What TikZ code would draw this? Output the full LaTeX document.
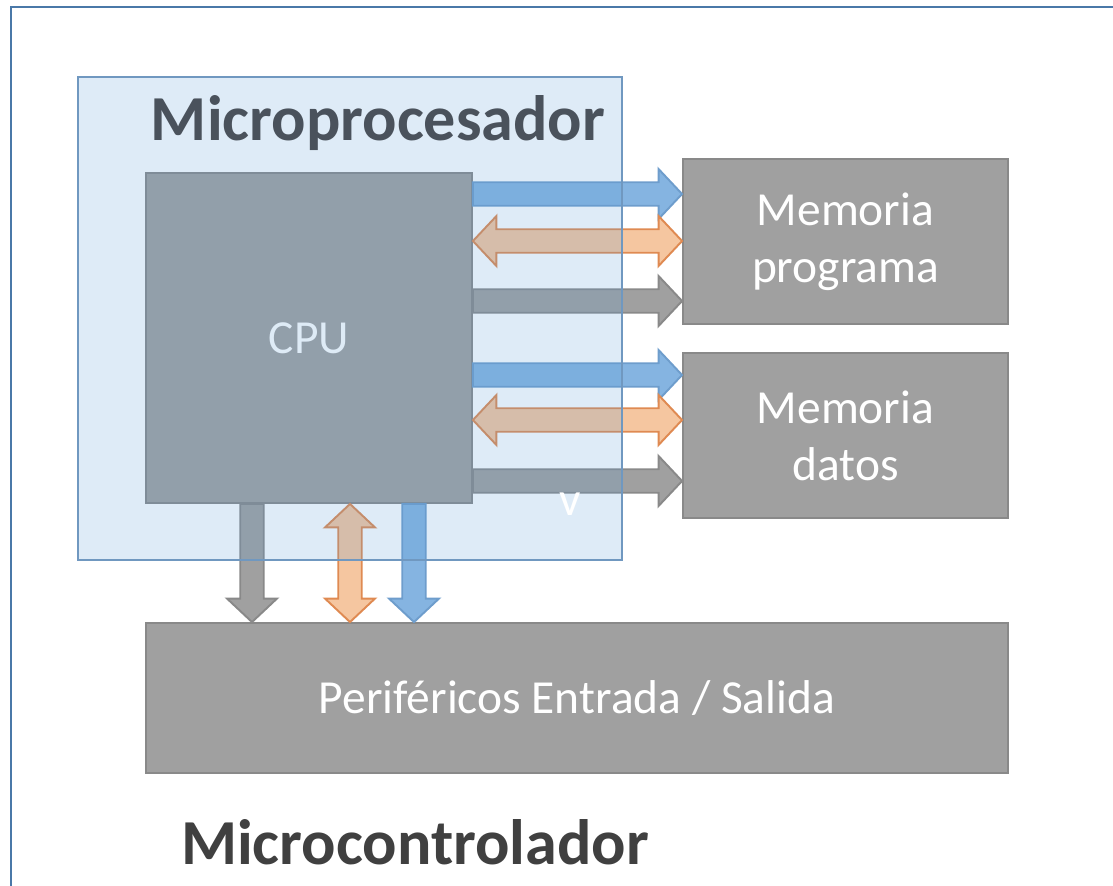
\documentclass[tikz,border=0pt]{standalone}
\usepackage{fontspec}
\setmainfont{Carlito}
\usetikzlibrary{calc, positioning}
\definecolor{frameblue}{HTML}{4A78A8}
\definecolor{upblue}{HTML}{5B9BD5}
\definecolor{upedge}{HTML}{7098C0}
\definecolor{boxgray}{HTML}{A0A0A0}
\definecolor{boxedge}{HTML}{898989}
\definecolor{busblue}{HTML}{85B4E1}
\definecolor{busblueedge}{HTML}{6E9DCC}
\definecolor{busorange}{HTML}{F5C6A0}
\definecolor{busorangeedge}{HTML}{DF8A52}
\definecolor{titlegray}{HTML}{4A525C}

\newcommand{\shaftw}{0.235cm}
\newcommand{\headw}{0.5cm}
\newcommand{\headl}{0.47cm}

% bus de una punta, de #2 a #3
\newcommand{\busarrow}[3]{%
  \path (#2) coordinate (ba) (#3) coordinate (bb);
  \path ($(bb)!\headl!(ba)$) coordinate (bh);
  \draw[#1] ($(ba)!\shaftw!90:(bb)$) -- ($(bh)!\shaftw!90:(bb)$) -- ($(bh)!\headw!90:(bb)$) -- (bb)
    -- ($(bh)!\headw!-90:(bb)$) -- ($(bh)!\shaftw!-90:(bb)$) -- ($(ba)!\shaftw!-90:(bb)$) -- cycle;}
% bus de dos puntas
\newcommand{\busdouble}[3]{%
  \path (#2) coordinate (ba) (#3) coordinate (bb);
  \path ($(ba)!\headl!(bb)$) coordinate (bg) ($(bb)!\headl!(ba)$) coordinate (bh);
  \draw[#1] (ba) -- ($(bg)!\headw!90:(bb)$) -- ($(bg)!\shaftw!90:(bb)$) -- ($(bh)!\shaftw!90:(bb)$)
    -- ($(bh)!\headw!90:(bb)$) -- (bb) -- ($(bh)!\headw!-90:(bb)$) -- ($(bh)!\shaftw!-90:(bb)$)
    -- ($(bg)!\shaftw!-90:(bb)$) -- ($(bg)!\headw!-90:(bb)$) -- cycle;}

\tikzset{
  unit/.style={draw=boxedge, fill=boxgray, line width=1.1pt, inner sep=0pt, text=white,
    font=\fontsize{27}{32.4}\selectfont, align=center},
  bluebus/.style={draw=busblueedge, fill=busblue, line width=1.1pt},
  orangebus/.style={draw=busorangeedge, fill=busorange, line width=1.1pt},
  graybus/.style={draw=boxedge, fill=boxgray, line width=1.1pt},
  heading/.style={font=\fontsize{36.5}{44}\selectfont\bfseries, text=titlegray},
}

\begin{document}
\begin{tikzpicture}[x=0.02cm, y=-0.02cm]
	\useasboundingbox (0,0) rectangle (1113,886);
	\clip (0,0) rectangle (1113,886);
	% Marco
	\draw[frameblue, line width=1.7pt] (11,900) -- (11,7) -- (1120,7);
	
	% Bloques
	\node[unit, minimum width=6.52cm, minimum height=6.6cm] (cpu) at (309,338) {CPU};
	\node[unit, minimum width=6.5cm, minimum height=3.3cm] (prog) at (845.5,241.5) {Memoria\\programa};
	\node[unit, minimum width=6.5cm, minimum height=3.3cm] (datos) at (845.5,435.5) {Memoria\\datos};
	\node[unit, minimum width=17.24cm, minimum height=3cm] (perif) at (577,698) {Periféricos Entrada / Salida};
	
	% Buses
	\busarrow{bluebus}{cpu.east |- 0,194}{prog.west |- 0,194}
	\busdouble{orangebus}{cpu.east |- 0,241}{prog.west |- 0,241}
	\busarrow{graybus}{cpu.east |- 0,301}{prog.west |- 0,301}
	\busarrow{bluebus}{cpu.east |- 0,375}{datos.west |- 0,375}
	\busdouble{orangebus}{cpu.east |- 0,420}{datos.west |- 0,420}
	\busarrow{graybus}{cpu.east |- 0,481}{datos.west |- 0,481}
	\busarrow{graybus}{cpu.south -| 252,0}{perif.north -| 252,0}
	\busdouble{orangebus}{cpu.south -| 350,0}{perif.north -| 350,0}
	\busarrow{bluebus}{cpu.south -| 414,0}{perif.north -| 414,0}
	
	% Microprocesador
	\node[draw=upedge, fill=upblue, fill opacity=0.2, line width=1.1pt, inner sep=0pt,
		minimum width=10.88cm, minimum height=9.66cm] (mpu) at (350,318.5) {};
	\node[heading, anchor=base] (mputitle) at (378,140) {Microprocesador};
	\node[text=white, font=\fontsize{27}{32.4}\selectfont, anchor=base] (vmark) at (570,515) {v};
	
	\node[heading, text=black!75, anchor=base] (mcutitle) at (415,864) {Microcontrolador};
	\node[font=\fontsize{36}{43}\selectfont\bfseries, anchor=base] (acc1) at (880,930) {´};
	\node[font=\fontsize{36}{43}\selectfont\bfseries, anchor=base] (acc2) at (983,930) {´};
\end{tikzpicture}
\end{document}
